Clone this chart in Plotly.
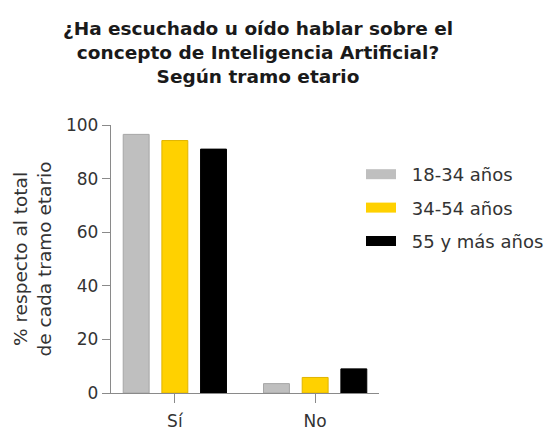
import plotly.graph_objects as go

categories = ["Sí", "No"]
series_names = ["18-34 años", "34-54 años", "55 y más años"]
values_18_34 = [96.5, 3.5]
values_34_54 = [94.2, 5.8]
values_55 = [91.0, 9.0]
y_ticks = [0, 20, 40, 60, 80, 100]

fills = ["#BFBFBF", "#FFD100", "#000000"]
borders = ["#A6A6A6", "#E0B400", "#000000"]
FONT = "DejaVu Sans"

fig = go.Figure()
for name, vals, fc, bc in zip(series_names, [values_18_34, values_34_54, values_55], fills, borders):
    fig.add_trace(go.Bar(x=categories, y=vals, name=name, showlegend=False,
                         marker=dict(color=fc, line=dict(color=bc, width=1))))
for i, (name, fc) in enumerate(zip(series_names, fills)):
    fig.add_trace(go.Scatter(x=[None], y=[None], mode="lines", name="\u2002\u200a" + name,
                             legendgroup=f"g{i}",
                             line=dict(color=fc, width=10)))

fig.update_layout(
    width=548, height=430,
    margin=dict(l=111, r=169, t=125, b=37, autoexpand=False),
    paper_bgcolor="white", plot_bgcolor="white",
    barmode="group", bargap=0.173, bargroupgap=0.33,
    font=dict(family=FONT, size=15, color="#333333"),
    title=dict(
        text="<b>¿Ha escuchado u oído hablar sobre el<br>concepto de Inteligencia Artificial?<br>Según tramo etario</b>",
        x=258/548, xanchor="center", xref="container",
        y=1-35/430, yanchor="middle", yref="container",
        font=dict(family=FONT, size=18.5, color="#1a1a1a"),
    ),
    xaxis=dict(range=[-0.455, 1.455], showline=True, linecolor="#8a8a8a", linewidth=1.3,
               ticks="outside", ticklen=9, tickcolor="#8a8a8a", tickwidth=1.3, ticklabelstandoff=3,
               tickfont=dict(size=17, color="#333333"), showgrid=False, zeroline=False),
    yaxis=dict(range=[0, 100], tickvals=y_ticks, showline=True, linecolor="#8a8a8a", linewidth=1.3,
               ticks="outside", ticklen=8, tickcolor="#8a8a8a", tickwidth=1.3,
               tickfont=dict(size=17, color="#333333"), showgrid=False, zeroline=False,
               title=dict(text="% respecto al total<br>de cada tramo etario", standoff=9,
                          font=dict(size=18.5, color="#333333"))),
    legend=dict(x=361/548, xanchor="left", xref="container", y=1-156/430, yanchor="top", yref="container",
                tracegroupgap=7,
                font=dict(size=18, color="#333333"), bgcolor="rgba(0,0,0,0)"),
)

fig.write_html("out.html", config={"displayModeBar": False},
               post_script="document.body.style.margin='0';document.body.style.padding='0';")
